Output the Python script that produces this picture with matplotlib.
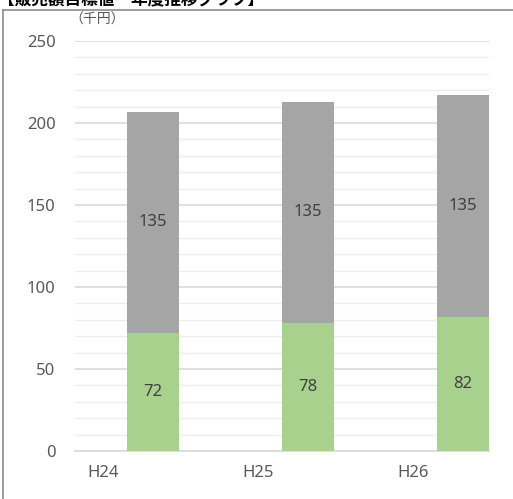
import numpy as np
import matplotlib.pyplot as plt
from matplotlib.lines import Line2D

plt.rcParams['font.family'] = ['Noto Sans', 'Noto Sans CJK JP']

years = ['H24', 'H25', 'H26']
lower = [72, 78, 82]
upper = [135, 135, 135]
title = '【販売額目標値　年度推移グラフ】'
unit = '（千円）'

text_color = '#595959'
green = '#A9D18E'
gray = '#A5A5A5'

W, H = 513, 499
fig = plt.figure(figsize=(W / 100, H / 100), dpi=100)
ax = fig.add_axes([75 / W, (H - 451) / H, (489 - 75) / W, 410 / H])

x = np.arange(len(years))
width = 0.335
ax.bar(x, lower, width, color=green, zorder=3)
ax.bar(x, upper, width, bottom=lower, color=gray, zorder=3)

for i in range(len(years)):
    ax.text(x[i], lower[i] / 2, str(lower[i]), ha='center', va='center',
            fontsize=12, color='#404040', zorder=4)
    ax.text(x[i], lower[i] + upper[i] / 2, str(upper[i]), ha='center', va='center',
            fontsize=12, color='#404040', zorder=4)

ax.set_xlim(-0.503, 2.168)
ax.set_ylim(0, 250)
ax.set_yticks(np.arange(0, 251, 50))
ax.set_yticks(np.arange(0, 251, 10), minor=True)
ax.grid(axis='y', which='major', color='#D9D9D9', linewidth=1.2, zorder=0)
ax.grid(axis='y', which='minor', color='#EDEDED', linewidth=1.0, zorder=0)
ax.set_xticks(x - 0.323)
ax.set_xticklabels(years)
ax.tick_params(axis='both', which='both', length=0, labelsize=12, labelcolor=text_color)
ax.tick_params(axis='x', pad=10)
ax.tick_params(axis='y', pad=14)
for s in ['top', 'right', 'left']:
    ax.spines[s].set_visible(False)
ax.spines['bottom'].set_color('#D9D9D9')
ax.spines['bottom'].set_linewidth(1.2)

fig.text(69 / W, 1 - 20 / H, unit, fontsize=10, color=text_color, va='center', ha='left',
         family=['Noto Sans CJK JP'])

# chart frame (only left and top edges fall inside the picture)
fig.add_artist(Line2D([2.5 / W, 2.5 / W], [0, 1 - 9.5 / H], color='#8C8C8C', linewidth=1.2))
fig.add_artist(Line2D([2.5 / W, 1], [1 - 9.5 / H, 1 - 9.5 / H], color='#8C8C8C', linewidth=1.2))

# title sits at the very top and is half cut off, as in the original
fig.text(-2 / W, 1.0, title, fontsize=12, fontweight='bold', color='black',
         va='center', ha='left', family=['Noto Sans CJK JP'])

fig.savefig('out.png', dpi=100)
